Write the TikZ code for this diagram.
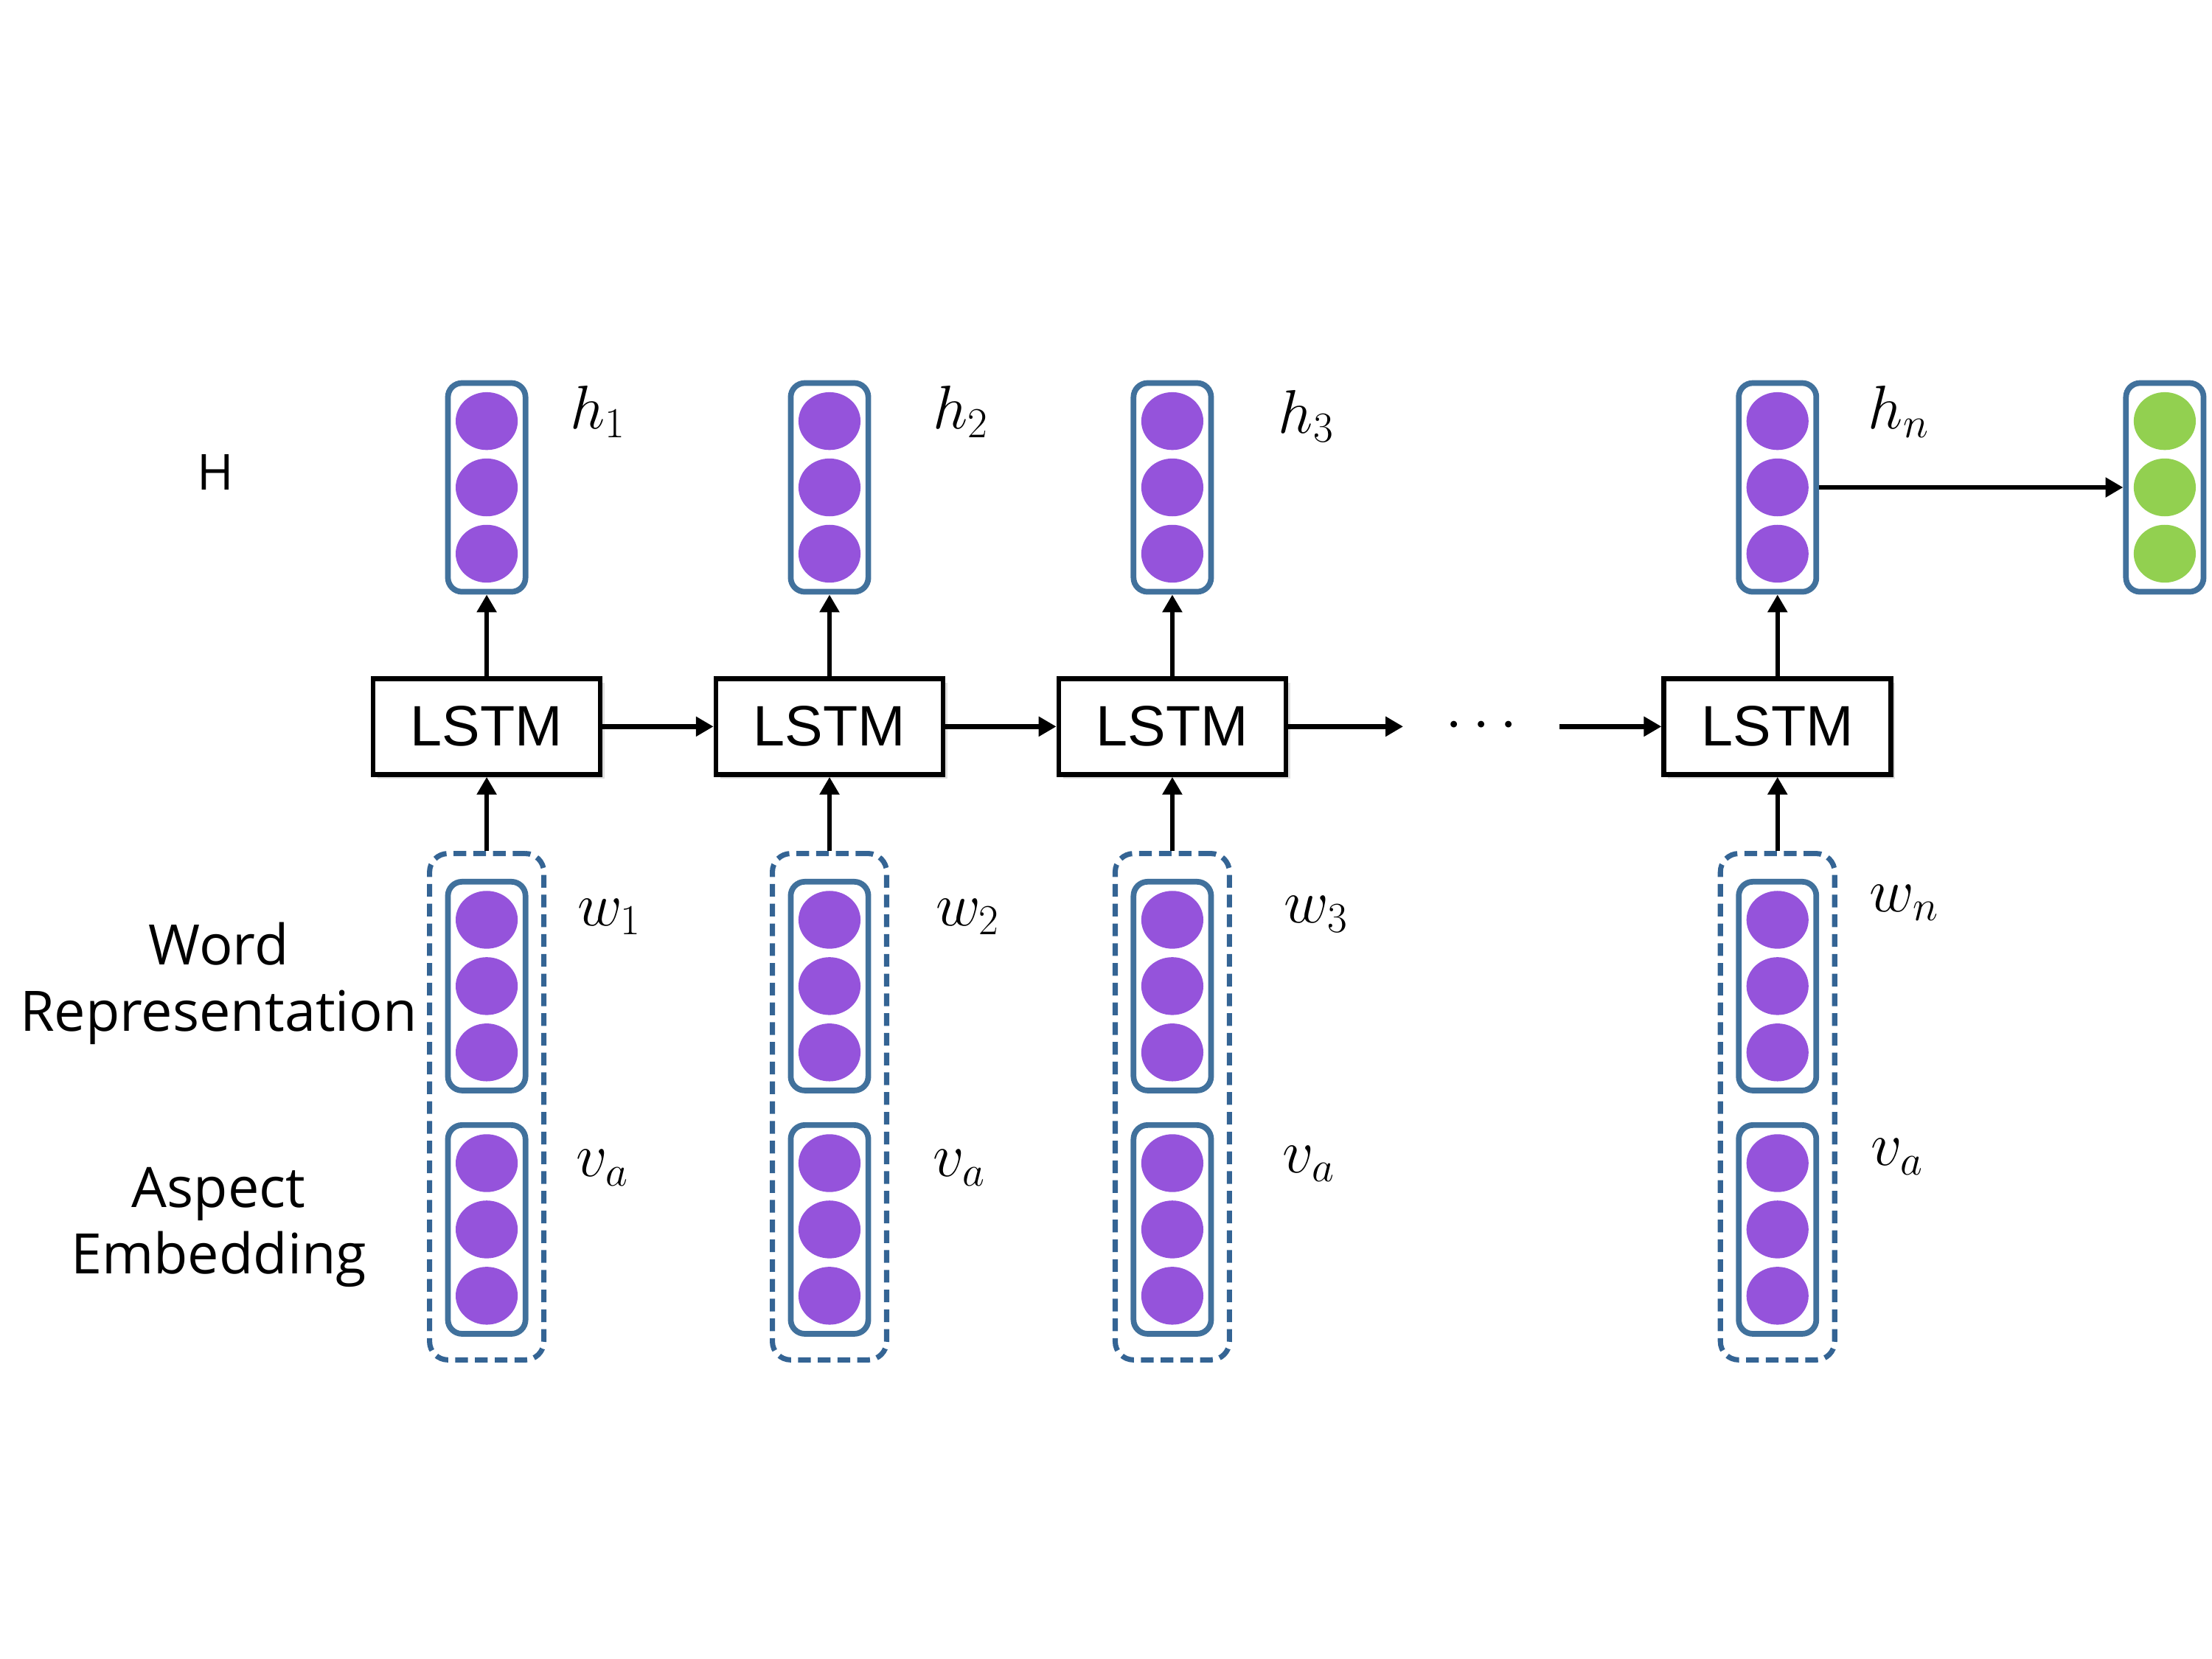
\documentclass[tikz,border=0pt]{standalone}
\usepackage[no-math]{fontspec}
\setmainfont{Open Sans}
\newfontfamily\lstmfont{Liberation Sans}
\usepackage{tikz}
\usetikzlibrary{arrows.meta}
\usetikzlibrary{shapes.geometric}
\usetikzlibrary{shadows}

\definecolor{neuron}{RGB}{149,83,219}
\definecolor{outneuron}{RGB}{146,208,80}
\definecolor{boxblue}{RGB}{65,113,156}
\definecolor{dashblue}{RGB}{52,100,148}

\tikzset{
	vecbox/.style={draw=boxblue, line width=2.3pt, rounded corners=0.2cm, minimum width=1.1cm, minimum height=2.96cm, inner sep=0pt},
	unit/.style={ellipse, inner sep=0pt, minimum width=0.88cm, minimum height=0.82cm},
	lstmbox/.style={draw, fill=white, line width=2pt, minimum width=3.22cm, minimum height=1.36cm, font=\lstmfont\fontsize{23}{23}\selectfont, drop shadow={opacity=0.25, shadow xshift=0.06cm, shadow yshift=-0.06cm}},
	inbox/.style={draw=dashblue, line width=2.1pt, dash pattern=on 0.18cm off 0.1cm, rounded corners=0.26cm, minimum width=1.62cm, minimum height=7.18cm},
	link/.style={-{Triangle[length=0.25cm,width=0.27cm]}, line width=1.9pt},
	sym/.style={font=\fontsize{26}{30}\selectfont},
	side/.style={font=\fontsize{22.5}{26.7}\selectfont, align=center}
}

% vector of three units: name, x, y, colour
\newcommand{\vecbox}[4]{%
	\node[vecbox] (#1) at (#2,#3) {};
	\foreach \k/\dy in {a/-47,b/0,c/47}
		\node[unit, fill=#4] (#1\k) at (#2,{#3+(\dy)}) {};
}

\begin{document}
\begin{tikzpicture}[x=0.02cm, y=-0.02cm]
	\useasboundingbox (0,0) rectangle (1568,1176);
	%
	\node[font=\fontsize{20}{20}\selectfont] (H) at (153,335) {H};
	\node[side] (wordrep) at (155,697) {Word\\Representation};
	\node[side] (aspemb) at (155,870) {Aspect\\Embedding};
	%
	% hidden states
	\vecbox{h1}{345}{345.5}{neuron}
	\vecbox{h2}{588}{345.5}{neuron}
	\vecbox{h3}{831}{345.5}{neuron}
	\vecbox{hn}{1260}{345.5}{neuron}
	\vecbox{out}{1534.5}{345.5}{outneuron}
	\node[sym] (lh1) at (424,292) {$h_1$};
	\node[sym] (lh2) at (681,292) {$h_2$};
	\node[sym] (lh3) at (926,295) {$h_3$};
	\node[sym] (lhn) at (1346,292) {$h_n$};
	%
	% lstm cells
	\node[lstmbox] (lstm1) at (345,515) {LSTM};
	\node[lstmbox] (lstm2) at (588,515) {LSTM};
	\node[lstmbox] (lstm3) at (831,515) {LSTM};
	\node[lstmbox] (lstmn) at (1260,515) {LSTM};
	\node[sym, minimum width=2.2cm] (dots) at (1050,515) {$\cdots$};
	%
	% inputs
	\node[inbox] (in1) at (345,784.5) {};
	\node[inbox] (in2) at (588,784.5) {};
	\node[inbox] (in3) at (831,784.5) {};
	\node[inbox] (inn) at (1260,784.5) {};
	\vecbox{w1}{345}{699}{neuron}
	\vecbox{w2}{588}{699}{neuron}
	\vecbox{w3}{831}{699}{neuron}
	\vecbox{wn}{1260}{699}{neuron}
	\vecbox{v1}{345}{871.5}{neuron}
	\vecbox{v2}{588}{871.5}{neuron}
	\vecbox{v3}{831}{871.5}{neuron}
	\vecbox{vn}{1260}{871.5}{neuron}
	\node[sym] (lw1) at (432,650) {$w_1$};
	\node[sym] (lw2) at (686,650) {$w_2$};
	\node[sym] (lw3) at (933,648) {$w_3$};
	\node[sym] (lwn) at (1350,640) {$w_n$};
	\node[sym] (lv1) at (427,828) {$v_a$};
	\node[sym] (lv2) at (680,828) {$v_a$};
	\node[sym] (lv3) at (928,825) {$v_a$};
	\node[sym] (lvn) at (1345,820) {$v_a$};
	%
	\draw[link] (in1) -- (lstm1);
	\draw[link] (in2) -- (lstm2);
	\draw[link] (in3) -- (lstm3);
	\draw[link] (inn) -- (lstmn);
	\draw[link] (lstm1) -- (h1);
	\draw[link] (lstm2) -- (h2);
	\draw[link] (lstm3) -- (h3);
	\draw[link] (lstmn) -- (hn);
	\draw[link] (lstm1) -- (lstm2);
	\draw[link] (lstm2) -- (lstm3);
	\draw[link] (lstm3) -- (dots);
	\draw[link] (dots) -- (lstmn);
	\draw[link] (hn) -- (out);
\end{tikzpicture}
\end{document}
